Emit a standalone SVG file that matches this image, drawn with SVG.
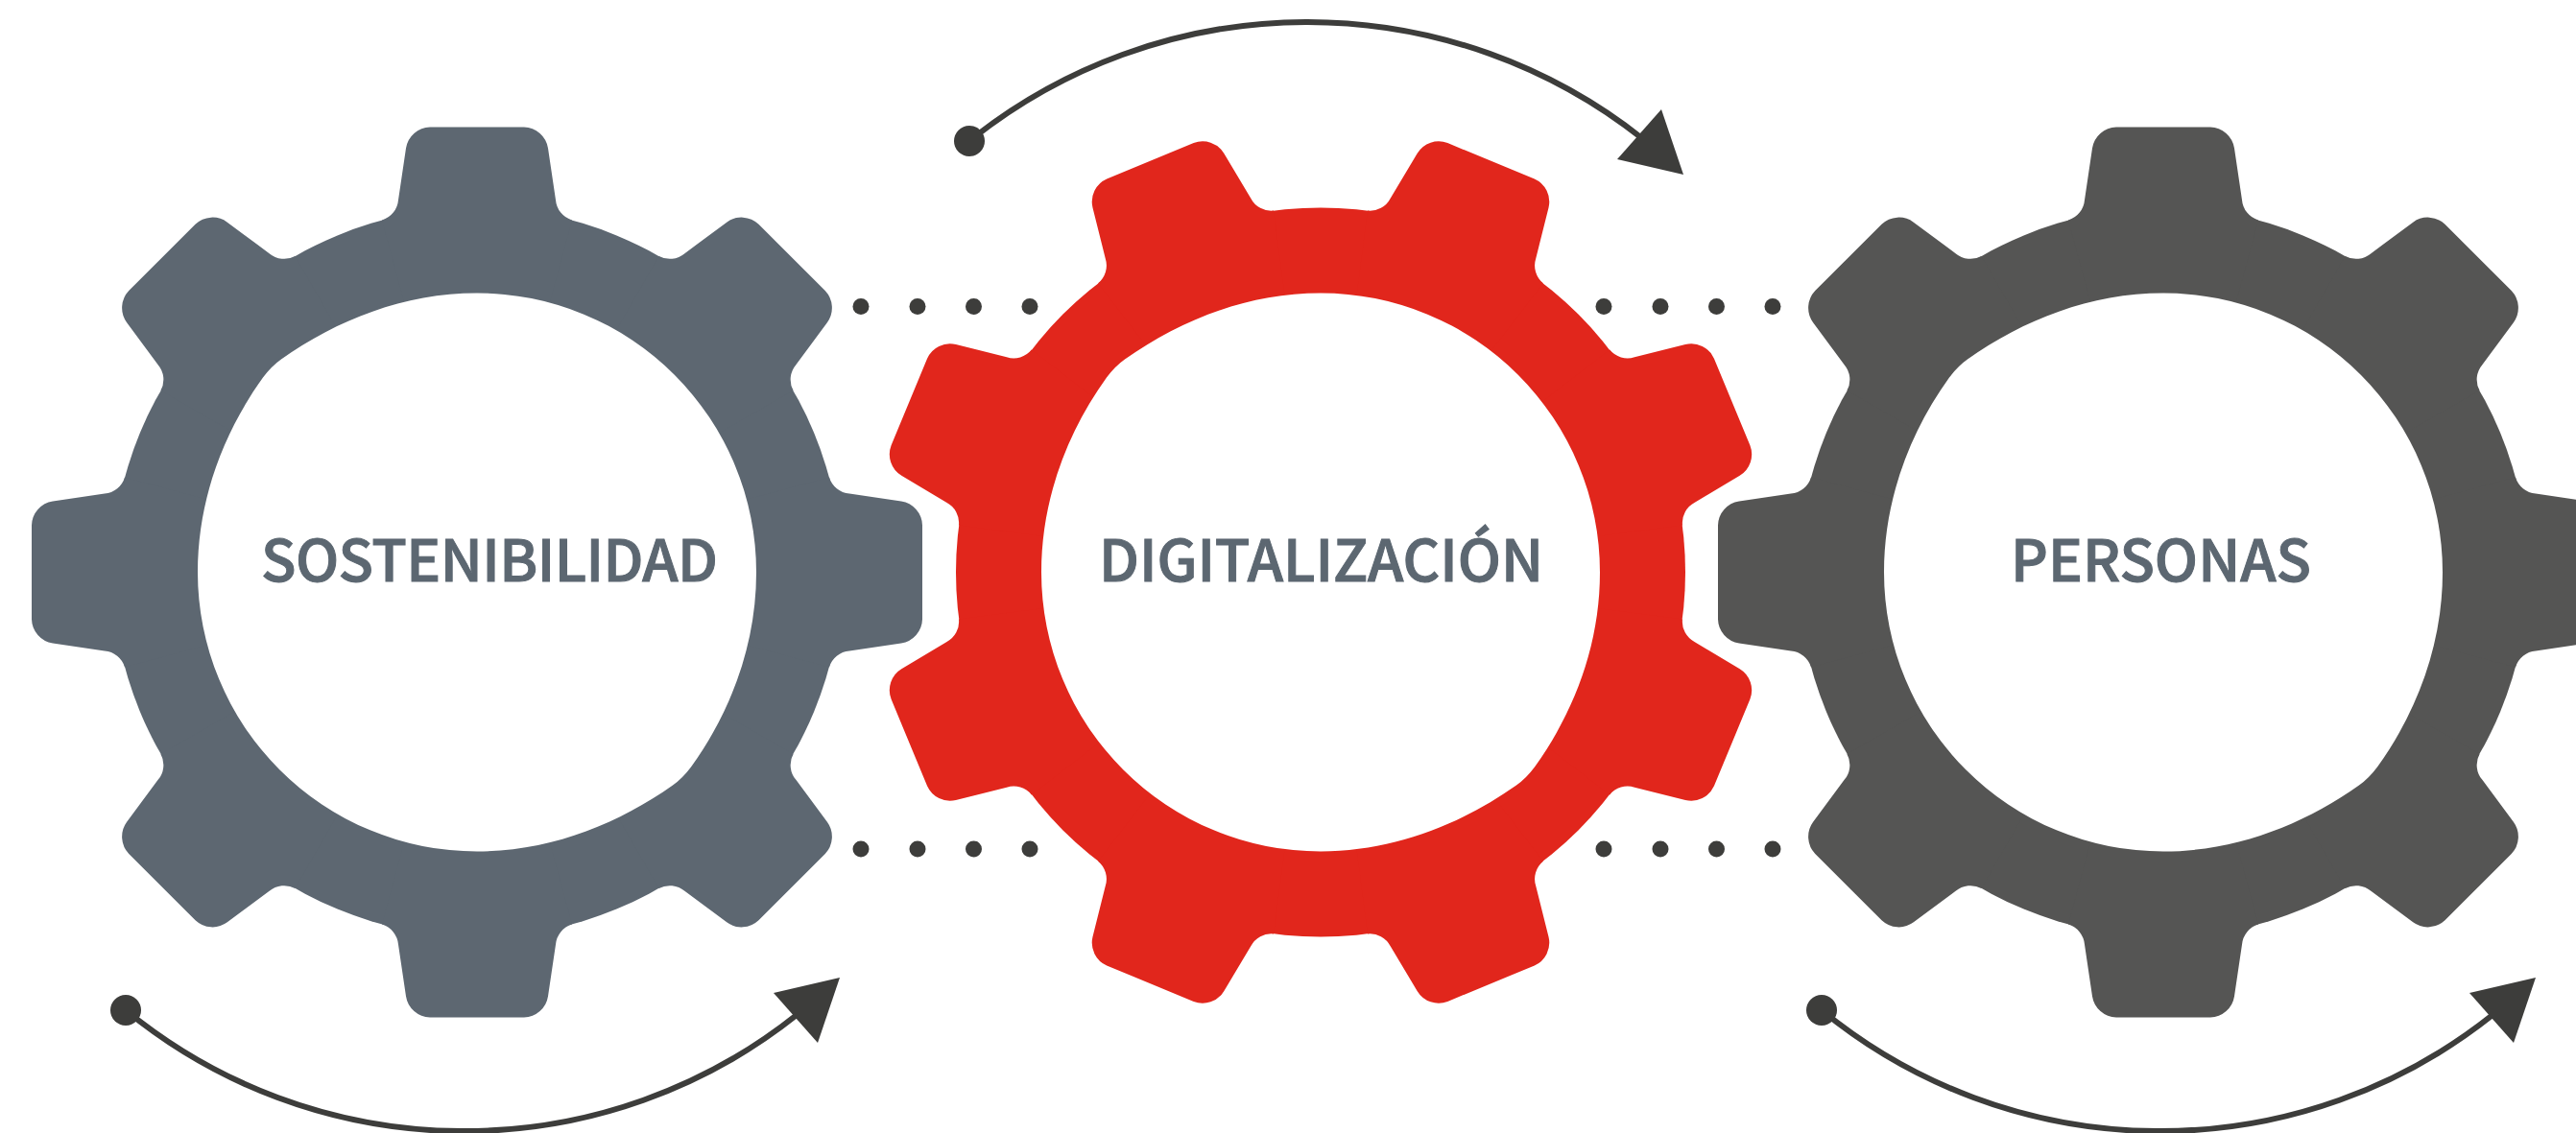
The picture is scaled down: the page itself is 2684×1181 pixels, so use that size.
<svg xmlns="http://www.w3.org/2000/svg" xmlns:xlink="http://www.w3.org/1999/xlink" width="2684" height="1181" viewBox="0 0 2684 1181">
<style>
.lbl{font-family:"Noto Sans CJK SC","Noto Sans",sans-serif;font-weight:500;font-size:60px;fill:#5c6771;stroke:#5c6771;stroke-width:1}
.dot{fill:#3d3d3b}
.arc{fill:none;stroke:#3d3d3b;stroke-width:6}
.head{fill:#3d3d3b}
.hole{fill:#fff}
</style>
<defs>
<g id="teeth">
<circle r="380"/>
<path id="t" d="M-99,-367A24,24 0 0 0-82,-388L-74,-442A26,26 0 0 1-49,-464L49,-464A26,26 0 0 1 74,-442L82,-388A24,24 0 0 0 99,-367L0,0Z"/>
<use xlink:href="#t" transform="rotate(45)"/><use xlink:href="#t" transform="rotate(90)"/><use xlink:href="#t" transform="rotate(135)"/>
<use xlink:href="#t" transform="rotate(180)"/><use xlink:href="#t" transform="rotate(225)"/><use xlink:href="#t" transform="rotate(270)"/><use xlink:href="#t" transform="rotate(315)"/>
</g>
<path id="hole" d="M0,-291C-76,-291-146,-263-204,-222Q-214,-215-223,-203C-264,-146-291,-76-291,0A291,291 0 0 0 0,291C76,291 146,263 204,222Q214,215 223,203C264,146 291,76 291,0A291,291 0 0 0 0,-291Z"/>
</defs>
<g id="gear-sostenibilidad">
<use xlink:href="#teeth" transform="translate(497,596.5)" fill="#5d6771"/>
<use xlink:href="#hole" class="hole" transform="translate(497,596.5)"/>
<text class="lbl" x="272" y="605.7" textLength="476" lengthAdjust="spacing">SOSTENIBILIDAD</text>
</g>
<g id="gear-digitalizacion">
<use xlink:href="#teeth" transform="translate(1376,596.5) rotate(22.5)" fill="#e1261c"/>
<use xlink:href="#hole" class="hole" transform="translate(1376,596.5)"/>
<text class="lbl" x="1145" y="605.7" textLength="463" lengthAdjust="spacing">DIGITALIZACIÓN</text>
</g>
<g id="gear-personas">
<use xlink:href="#teeth" transform="translate(2254,596.5)" fill="#555554"/>
<use xlink:href="#hole" class="hole" transform="translate(2254,596.5)"/>
<text class="lbl" x="2095" y="605.7" textLength="313" lengthAdjust="spacing">PERSONAS</text>
</g>
<g id="connectors">
<g class="dot">
<circle cx="897" cy="319.5" r="8.5"/><circle cx="956" cy="319.5" r="8.5"/><circle cx="1014.5" cy="319.5" r="8.5"/><circle cx="1073" cy="319.5" r="8.5"/>
<circle cx="1671" cy="319.5" r="8.5"/><circle cx="1730" cy="319.5" r="8.5"/><circle cx="1788.5" cy="319.5" r="8.5"/><circle cx="1847" cy="319.5" r="8.5"/>
<circle cx="897" cy="885" r="8.5"/><circle cx="956" cy="885" r="8.5"/><circle cx="1014.5" cy="885" r="8.5"/><circle cx="1073" cy="885" r="8.5"/>
<circle cx="1671" cy="885" r="8.5"/><circle cx="1730" cy="885" r="8.5"/><circle cx="1788.5" cy="885" r="8.5"/><circle cx="1847" cy="885" r="8.5"/>
</g>
<g id="arrow-top">
<path class="arc" d="M1010,147A562,562 0 0 1 1712,145"/>
<circle class="dot" cx="1010" cy="147" r="16"/>
<polygon class="head" points="1731,114 1754,182 1685,166"/>
</g>
<g id="arrow-left">
<path class="arc" d="M131,1053A556,556 0 0 0 830,1058"/>
<circle class="dot" cx="131" cy="1053" r="16"/>
<polygon class="head" points="875,1019 852,1087 806,1035"/>
</g>
<g id="arrow-right">
<path class="arc" d="M1898,1053A556,556 0 0 0 2597,1058"/>
<circle class="dot" cx="1898" cy="1053" r="16"/>
<polygon class="head" points="2642,1019 2619,1087 2573,1035"/>
</g>
</g>
</svg>
